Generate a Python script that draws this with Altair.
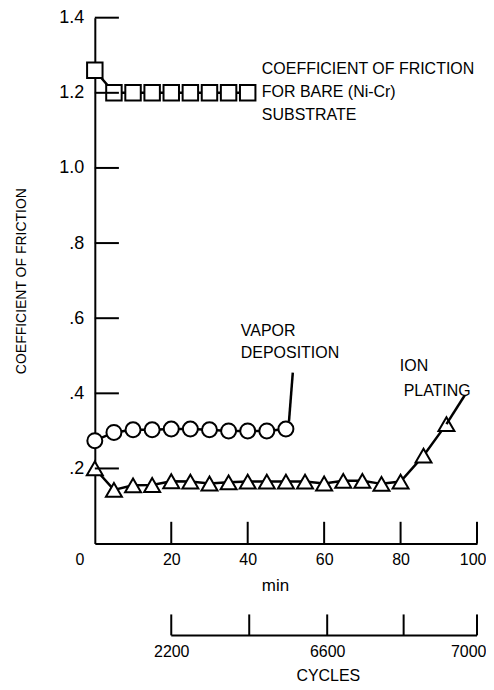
import altair as alt
import pandas as pd

FONT = "Liberation Sans"

# ---- data ----
bare_min = [0, 5, 10, 15, 20, 25, 30, 35, 40]
bare_cof = [1.26, 1.20, 1.20, 1.20, 1.20, 1.20, 1.20, 1.20, 1.20]

vapor_min = [0, 5, 10, 15, 20, 25, 30, 35, 40, 45, 50]
vapor_cof = [0.274, 0.296, 0.303, 0.303, 0.305, 0.305, 0.303, 0.300, 0.300, 0.300, 0.305]

ion_min = [0, 5, 10, 15, 20, 25, 30, 35, 40, 45, 50, 55, 60, 65, 70, 75, 80, 86, 92]
ion_cof = [0.200, 0.143, 0.155, 0.156, 0.166, 0.165, 0.160, 0.163, 0.165, 0.165,
           0.165, 0.165, 0.160, 0.167, 0.167, 0.159, 0.165, 0.234, 0.318]

y_ticks = [0.2, 0.4, 0.6, 0.8, 1.0, 1.2, 1.4]
y_tick_labels = [".2", ".4", ".6", ".8", "1.0", "1.2", "1.4"]
x_ticks = [0, 20, 40, 60, 80, 100]
x_tick_labels = ["0", "20", "40", "60", "80", "100"]
cycle_ticks = [20, 40.4, 60.8, 80.8, 100]
cycle_labels = ["2200", "", "6600", "", "7000"]

note_text = ["COEFFICIENT OF FRICTION", "FOR BARE (Ni-Cr)", "SUBSTRATE",
             "VAPOR", "DEPOSITION", "ION", "PLATING"]
note_x = [43.7, 43.7, 43.7, 38.2, 38.2, 79.8, 80.8]
note_y = [1.264, 1.203, 1.140, 0.566, 0.508, 0.473, 0.406]

leader_x = [50.8, 92.0]
leader_x2 = [51.8, 96.8]
leader_y = [0.325, 0.318]
leader_y2 = [0.455, 0.395]

Y_TICK_LEN = 6.3     # inward tick length, in minutes
X_TICK_LEN = 0.058   # inward tick length, in friction units


def label_expr(vals, labels):
    expr = "''"
    for v, l in reversed(list(zip(vals, labels))):
        expr = f"datum.value == {v} ? '{l}' : ({expr})"
    return expr


xs = alt.Scale(domain=[0, 100], nice=False, zero=False)
ys = alt.Scale(domain=[0, 1.4], nice=False, zero=True)

# the "0" label sits left of the origin, so it is drawn as a text mark below
x_axis = alt.Axis(values=x_ticks, labelExpr=label_expr(x_ticks[1:], x_tick_labels[1:]),
                  title="min", ticks=False, tickSize=0, grid=False,
                  domainWidth=2, labelPadding=8, titlePadding=10, titleX=180.5,
                  labelFontSize=16, titleFontSize=17,
                  labelFlush=True, labelFlushOffset=9)
y_axis = alt.Axis(values=y_ticks, labelExpr=label_expr(y_ticks, y_tick_labels),
                  title="COEFFICIENT OF FRICTION", ticks=False, tickSize=0, grid=False,
                  domainWidth=2, labelPadding=11, titlePadding=30, titleFontSize=14,
                  labelFontSize=18)

bare = pd.DataFrame({"t": bare_min, "c": bare_cof})
vapor = pd.DataFrame({"t": vapor_min, "c": vapor_cof})
ion = pd.DataFrame({"t": ion_min, "c": ion_cof})


def series(df, shape, size, first=False):
    if first:
        enc_x = alt.X("t:Q", scale=xs, axis=x_axis)
        enc_y = alt.Y("c:Q", scale=ys, axis=y_axis)
    else:
        enc_x = alt.X("t:Q", scale=xs)
        enc_y = alt.Y("c:Q", scale=ys)
    line = alt.Chart(df).mark_line(color="black", strokeWidth=2.5).encode(x=enc_x, y=enc_y)
    pts = alt.Chart(df).mark_point(shape=shape, size=size, filled=True, fill="white",
                                   stroke="black", strokeWidth=2, opacity=1).encode(
        x=alt.X("t:Q", scale=xs), y=alt.Y("c:Q", scale=ys))
    return [line, pts]


yt = pd.DataFrame({"y": y_ticks, "x": [0] * len(y_ticks), "x2": [Y_TICK_LEN] * len(y_ticks)})
ytick_layer = alt.Chart(yt).mark_rule(color="black", strokeWidth=2).encode(
    x=alt.X("x:Q", scale=xs), x2="x2:Q", y=alt.Y("y:Q", scale=ys))

xt = pd.DataFrame({"x": x_ticks[1:], "y": [0] * (len(x_ticks) - 1),
                   "y2": [X_TICK_LEN] * (len(x_ticks) - 1)})
xtick_layer = alt.Chart(xt).mark_rule(color="black", strokeWidth=2).encode(
    x=alt.X("x:Q", scale=xs), y=alt.Y("y:Q", scale=ys), y2="y2:Q")

zero_df = pd.DataFrame({"x": [x_ticks[0]], "y": [0], "txt": [x_tick_labels[0]]})
zero_label = alt.Chart(zero_df).mark_text(align="center", baseline="top", dx=-15, dy=8,
                                          font=FONT, fontSize=16, color="black").encode(
    x=alt.X("x:Q", scale=xs), y=alt.Y("y:Q", scale=ys), text="txt:N")

ld = pd.DataFrame({"x": leader_x, "x2": leader_x2, "y": leader_y, "y2": leader_y2})
leader_layer = alt.Chart(ld).mark_rule(color="black", strokeWidth=2.5).encode(
    x=alt.X("x:Q", scale=xs), x2="x2:Q", y=alt.Y("y:Q", scale=ys), y2="y2:Q")

nt = pd.DataFrame({"x": note_x, "y": note_y, "txt": note_text})
note_layer = alt.Chart(nt).mark_text(align="left", baseline="middle", font=FONT,
                                     fontSize=16, color="black").encode(
    x=alt.X("x:Q", scale=xs), y=alt.Y("y:Q", scale=ys), text="txt:N")

layers = (series(ion, "triangle-up", 256, first=True) + series(vapor, "circle", 225)
          + series(bare, "square", 240)
          + [ytick_layer, xtick_layer, zero_label, leader_layer, note_layer])
top = alt.layer(*layers).properties(width=383, height=527)

# ---- cycles axis panel ----
cy = pd.DataFrame({"x": cycle_ticks, "y": [0] * len(cycle_ticks), "y2": [1] * len(cycle_ticks)})
cys = alt.Scale(domain=[0, 1], nice=False)
c_axis = alt.Axis(values=cycle_ticks, labelExpr=label_expr(cycle_ticks, cycle_labels),
                  title="CYCLES", domain=False, ticks=False, tickSize=0, grid=False,
                  labelPadding=8, titlePadding=8, titleX=233.5,
                  labelFontSize=16, titleFontSize=16,
                  labelFlush=True, labelFlushOffset=9)
ghost_y = alt.Axis(values=[0.5], labelExpr="'1.4'", labelOpacity=0, title="C", titleOpacity=0,
                   domain=False, ticks=False, tickSize=0, grid=False, labelPadding=11,
                   titlePadding=30, titleFontSize=14, labelFontSize=18)
cticks = alt.Chart(cy).mark_rule(color="black", strokeWidth=2).encode(
    x=alt.X("x:Q", scale=xs, axis=c_axis), y=alt.Y("y:Q", scale=cys, axis=ghost_y), y2="y2:Q")
cbase_df = pd.DataFrame({"x": [min(cycle_ticks)], "x2": [max(cycle_ticks)], "y": [0]})
cbase = alt.Chart(cbase_df).mark_rule(color="black", strokeWidth=2).encode(
    x=alt.X("x:Q", scale=xs), x2="x2:Q", y=alt.Y("y:Q", scale=cys))
bottom = alt.layer(cticks, cbase).properties(width=383, height=21)

chart = alt.vconcat(top, bottom, spacing=20).properties(
    padding={"left": 6, "top": 0, "right": 0, "bottom": 0},
    background="white"
).configure_view(stroke=None).configure_axis(
    labelFont=FONT, titleFont=FONT,
    labelColor="black", titleColor="black", domainColor="black", titleFontWeight="normal"
)

chart.save("out.html", embed_options={"renderer": "svg", "actions": False})
